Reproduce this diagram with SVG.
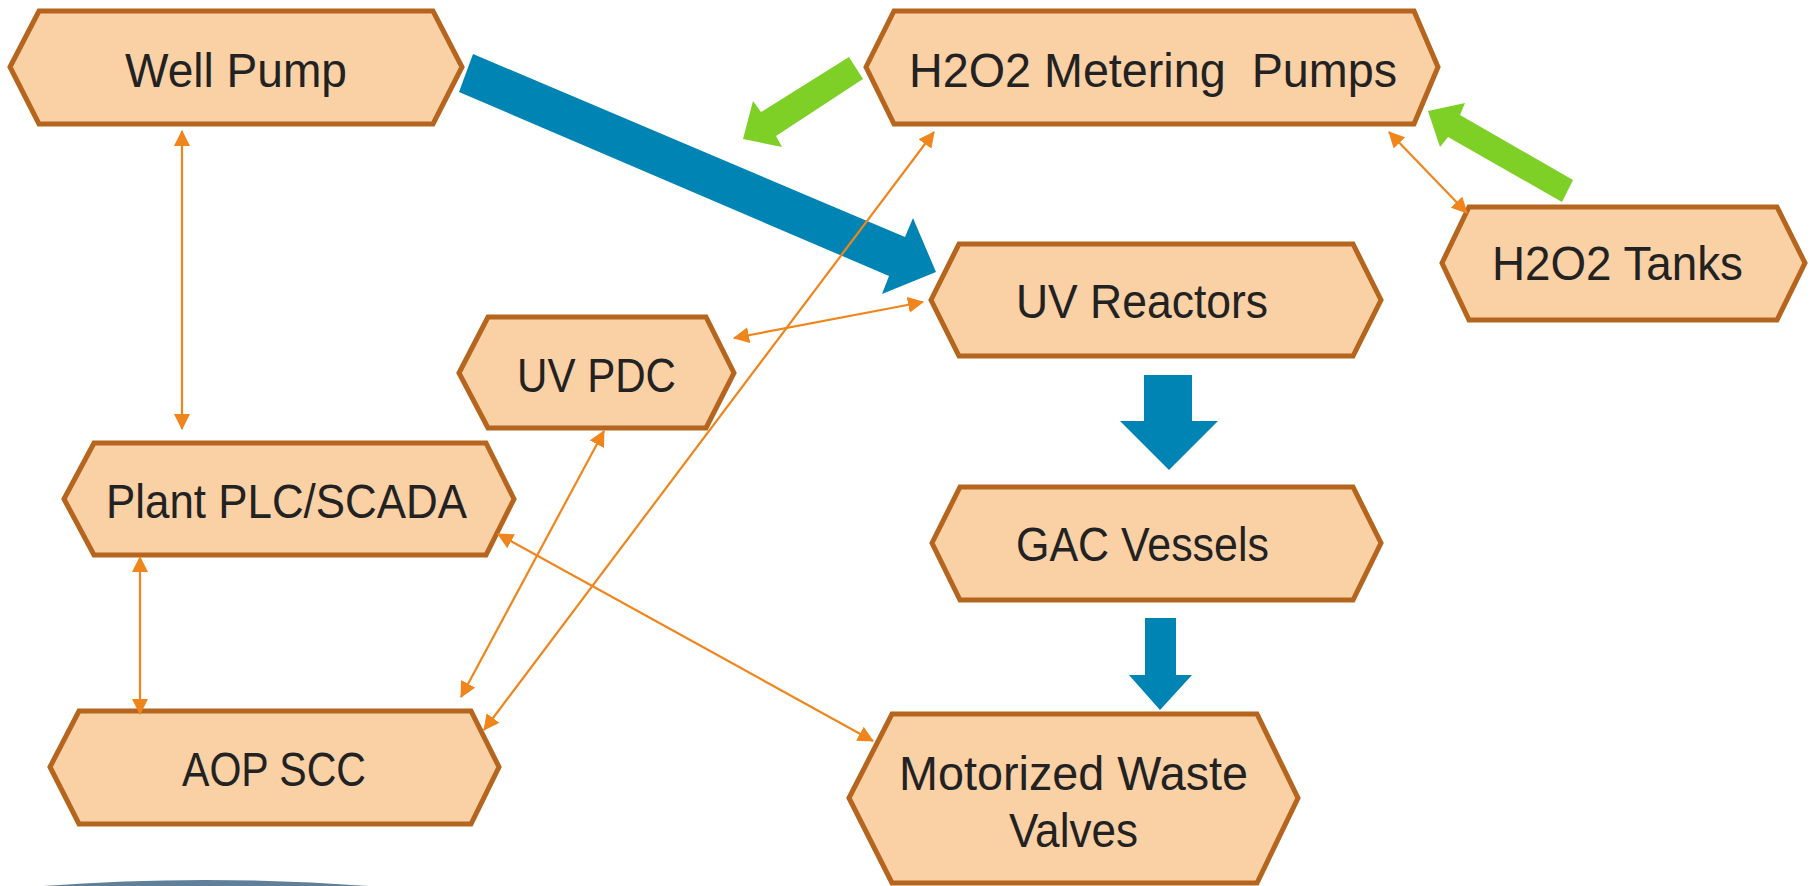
<svg xmlns="http://www.w3.org/2000/svg" width="1810" height="886" viewBox="0 0 1810 886">
<style>
.node polygon{fill:#FAD0A5;stroke:#B5651D;stroke-width:5;stroke-linejoin:miter}
.node text{font-family:"Liberation Sans",Arial,sans-serif;font-size:48px;fill:#222222}
.link{stroke:#F0851C;stroke-width:2.2;fill:none;marker-start:url(#oa);marker-end:url(#oa)}
.blue{fill:#0084B4}
.green{fill:#7ED026}
</style>
<defs>
<marker id="oa" markerUnits="userSpaceOnUse" markerWidth="16" markerHeight="16" refX="15" refY="8" orient="auto-start-reverse" viewBox="0 0 16 16">
<path d="M0,0 L16,8 L0,16 z" fill="#F0851C"/>
</marker>
</defs>
<rect width="1810" height="886" fill="#FFFFFF"/>
<path d="M43,886 Q205,874 368,886 Z" fill="#5F7F9B"/>

<g id="well-pump" class="node">
<polygon points="10,67 39,11 433,11 462,67 433,124 39,124"/>
<text x="125" y="87" textLength="222" lengthAdjust="spacingAndGlyphs">Well Pump</text>
</g>
<g id="h2o2-metering-pumps" class="node">
<polygon points="866,67 894,11 1414,11 1438,67 1414,124 894,124"/>
<text x="909" y="87" textLength="488" lengthAdjust="spacingAndGlyphs" xml:space="preserve">H2O2 Metering  Pumps</text>
</g>
<g id="uv-reactors" class="node">
<polygon points="931,300 959,244 1353,244 1381,300 1353,356 959,356"/>
<text x="1016" y="318" textLength="252" lengthAdjust="spacingAndGlyphs">UV Reactors</text>
</g>
<g id="h2o2-tanks" class="node">
<polygon points="1442,263 1469,207 1777,207 1805,263 1777,320 1469,320"/>
<text x="1492" y="280" textLength="251" lengthAdjust="spacingAndGlyphs">H2O2 Tanks</text>
</g>
<g id="uv-pdc" class="node">
<polygon points="459,373 488,317 706,317 734,373 706,428 488,428"/>
<text x="517" y="392" textLength="159" lengthAdjust="spacingAndGlyphs">UV PDC</text>
</g>
<g id="plant-plc-scada" class="node">
<polygon points="64,499 94,443 486,443 514,499 486,555 94,555"/>
<text x="106" y="518" textLength="361" lengthAdjust="spacingAndGlyphs">Plant PLC/SCADA</text>
</g>
<g id="aop-scc" class="node">
<polygon points="50,767 79,711 471,711 499,767 471,824 79,824"/>
<text x="182" y="786" textLength="184" lengthAdjust="spacingAndGlyphs">AOP SCC</text>
</g>
<g id="gac-vessels" class="node">
<polygon points="932,543 960,487 1353,487 1381,543 1353,600 960,600"/>
<text x="1016" y="561" textLength="253" lengthAdjust="spacingAndGlyphs">GAC Vessels</text>
</g>
<g id="motorized-waste-valves" class="node">
<polygon points="849,798 892,714 1257,714 1298,798 1257,883 892,883"/>
<text x="899" y="790" textLength="349" lengthAdjust="spacingAndGlyphs">Motorized Waste</text>
<text x="1009" y="847" textLength="129" lengthAdjust="spacingAndGlyphs">Valves</text>
</g>

<g id="connectors">
<polygon class="blue" points="473,54 905,237 913,218 936,272 882,294 889,276 459,92"/>
<polygon class="blue" points="1144,375 1192,375 1192,421 1218,421 1169,470 1120,421 1144,421"/>
<polygon class="blue" points="1145,618 1176,618 1176,675 1192,675 1160,710 1129,675 1145,675"/>
<polygon class="green" points="849,57 863,79 776,136 782,147 743,139 753,101 761,112"/>
<polygon class="green" points="1573,180 1562,202 1448,137 1440,147 1428,111 1465,103 1460,115"/>
<line class="link" x1="182" y1="131" x2="182" y2="429"/>
<line class="link" x1="140" y1="557" x2="140" y2="714"/>
<line class="link" x1="604" y1="431" x2="461" y2="697"/>
<line class="link" x1="934" y1="132" x2="484" y2="730"/>
<line class="link" x1="734" y1="338" x2="923" y2="302"/>
<line class="link" x1="498" y1="534" x2="873" y2="741"/>
<line class="link" x1="1389" y1="132" x2="1467" y2="213"/>
</g>
</svg>
